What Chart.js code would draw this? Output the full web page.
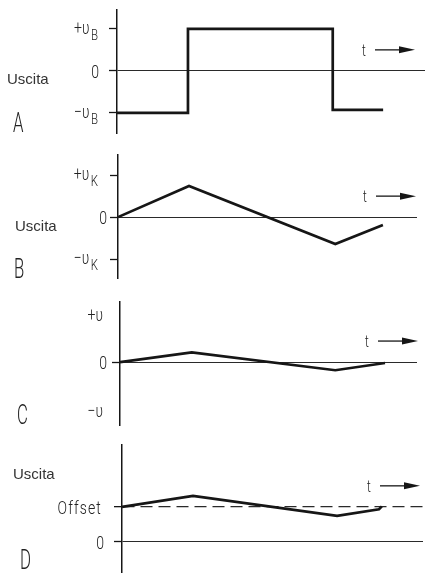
<!DOCTYPE html>
<html>
<head>
<meta charset="utf-8">
<script src="https://cdn.jsdelivr.net/npm/chart.js@4/dist/chart.umd.min.js"></script>
<style>
html, body { margin: 0; padding: 0; background: #fff; }
#wrap { position: relative; width: 427px; height: 573px; overflow: hidden; }
canvas { position: absolute; left: 0; }
.uscita { position: absolute; font-family: "Liberation Sans", Arial, sans-serif; font-size: 15px; line-height: 1; color: #333; }
.letter { position: absolute; font-family: Roboto, "Liberation Sans", Arial, sans-serif; font-weight: 300; font-size: 27px; line-height: 1; color: #222;
          transform: scaleX(0.62); transform-origin: left top; }
</style>
</head>
<body>
<div id="wrap">
  <canvas id="chartA" width="427" height="140" style="top:0px"></canvas>
  <canvas id="chartB" width="427" height="145" style="top:140px"></canvas>
  <canvas id="chartC" width="427" height="145" style="top:285px"></canvas>
  <canvas id="chartD" width="427" height="143" style="top:430px"></canvas>

  <div class="uscita" style="left:7px;top:71px">Uscita</div>
  <div class="letter" style="left:13px;top:110px">A</div>
  <div class="uscita" style="left:15px;top:218px">Uscita</div>
  <div class="letter" style="left:14px;top:256px">B</div>
  <div class="letter" style="left:17px;top:402px">C</div>
  <div class="uscita" style="left:13px;top:466px">Uscita</div>
  <div class="letter" style="left:20px;top:547px">D</div>
</div>
<script>
// A - square wave output
const timeA = [0, 1.0, 1.0, 3.04, 3.04, 3.75];
const outA = [-1, -1, 1, 1, -0.93, -0.93];
const ticksA = [-1, 0, 1];
const labelsA = [['−υ', 'B'], ['0', ''], ['+υ', 'B']];

// B - triangle output
const timeB = [0, 1.0, 3.06, 3.73];
const outB = [0, 0.74, -0.64, -0.19];
const ticksB = [-1, 0, 1];
const labelsB = [['−υ', 'K'], ['0', ''], ['+υ', 'K']];

// C - small triangle
const timeC = [0, 1.01, 3.03, 3.73];
const outC = [0, 0.2, -0.17, -0.02];
const ticksC = [-1, 0, 1];
const labelsC = [['−υ', ''], ['0', ''], ['+υ', '']];

// D - small triangle on offset
const OFFSET = 0.73;
const timeD = [0, 1.0, 3.03, 3.62, 3.66];
const outD = [0.73, 0.96, 0.54, 0.68, 0.74];
const ticksD = [0, OFFSET];
const labelsD = [['0', ''], ['Offset', '']];

const INK = '#161616';
const FONT = 'Roboto, "Liberation Sans", Arial, sans-serif';
const SQUEEZE = 0.74;

// tick labels (with subscripts) and the "t ->" marker
const axisText = {
    id: 'axisText',
    afterDraw(chart, args, opts) {
        const ctx = chart.ctx;
        const area = chart.chartArea;
        const y = chart.scales.y;
        ctx.save();
        ctx.fillStyle = '#222';
        ctx.textBaseline = 'alphabetic';
        ctx.textAlign = 'right';
        opts.values.forEach(function(v, i) {
            const main = opts.labels[i][0];
            const sub = opts.labels[i][1];
            const py = y.getPixelForValue(v);
            let right = area.left - opts.gaps[i];
            if (sub) {
                ctx.font = '300 14px ' + FONT;
                ctx.save();
                ctx.translate(right, py + 11);
                ctx.scale(SQUEEZE + 0.08, 1);
                ctx.fillText(sub, 0, 0);
                ctx.restore();
                right -= ctx.measureText(sub).width * (SQUEEZE + 0.08) + 1.5;
            }
            ctx.font = '300 19px ' + FONT;
            ctx.save();
            ctx.translate(right, py + (sub ? 5 : 7));
            ctx.scale(SQUEEZE, 1);
            if (main === 'Offset') ctx.letterSpacing = '1.5px';
            ctx.fillText(main, 0, 0);
            ctx.restore();
        });

        // t ->
        const by = y.getPixelForValue(opts.base) - 21;
        ctx.font = '300 17px ' + FONT;
        ctx.save();
        ctx.translate(area.left + 247, by + 6);
        ctx.scale(0.7, 1);
        ctx.textAlign = 'center';
        ctx.fillText('t', 0, 0);
        ctx.restore();
        const x1 = area.left + 258, x2 = area.left + 298;
        ctx.strokeStyle = INK;
        ctx.lineWidth = 1.3;
        ctx.beginPath();
        ctx.moveTo(x1, by);
        ctx.lineTo(x2 - 10, by);
        ctx.stroke();
        ctx.fillStyle = INK;
        ctx.beginPath();
        ctx.moveTo(x2, by);
        ctx.lineTo(x2 - 16, by - 3.5);
        ctx.lineTo(x2 - 16, by + 3.5);
        ctx.closePath();
        ctx.fill();
        ctx.restore();
    }
};

function makePanel(p) {
    const points = p.time.map(function(t, i) { return {x: t, y: p.out[i]}; });
    return new Chart(document.getElementById(p.id), {
        type: 'line',
        data: {
            datasets: [{
                data: points,
                borderColor: INK,
                borderWidth: 2.7,
                borderJoinStyle: 'miter',
                pointRadius: 0,
                tension: 0,
                fill: false
            }]
        },
        options: {
            responsive: false,
            animation: false,
            events: [],
            layout: {
                padding: { left: p.axisX - 8, right: 427 - p.right, top: p.padTop, bottom: p.padBottom }
            },
            plugins: {
                legend: { display: false },
                tooltip: { enabled: false },
                axisText: { values: p.ticks, labels: p.labels, gaps: p.gaps, base: p.base }
            },
            scales: {
                x: { type: 'linear', display: false, min: 0, max: p.xMax },
                y: {
                    type: 'linear',
                    min: p.yMin,
                    max: p.yMax,
                    afterBuildTicks: function(scale) {
                        scale.ticks = p.ticks.map(function(v) { return {value: v}; });
                    },
                    ticks: { display: false },
                    grid: {
                        drawOnChartArea: true,
                        drawTicks: true,
                        tickLength: 8,
                        lineWidth: function(c) { return p.dashed.includes(c.tick.value) ? 1.3 : 1; },
                        color: function(c) {
                            return (p.lines.includes(c.tick.value) || p.dashed.includes(c.tick.value)) ? '#2a2a2a' : 'rgba(0,0,0,0)';
                        },
                        tickWidth: 1.3,
                        tickColor: function(c) { return p.marks.includes(c.tick.value) ? INK : 'rgba(0,0,0,0)'; }
                    },
                    border: {
                        display: true,
                        color: INK,
                        width: 1.5,
                        dash: function(c) { return (c.tick && p.dashed.includes(c.tick.value)) ? [12, 6] : []; }
                    }
                }
            }
        },
        plugins: [axisText]
    });
}

makePanel({ id: 'chartA', time: timeA, out: outA, ticks: ticksA, labels: labelsA,
    axisX: 117, right: 425, padTop: 10, padBottom: 7, xMax: 4.34, yMin: -1.48, yMax: 1.45,
    gaps: [19, 18, 19], base: 0, lines: [0], dashed: [], marks: [-1, 0, 1] });

makePanel({ id: 'chartB', time: timeB, out: outB, ticks: ticksB, labels: labelsB,
    axisX: 118, right: 417, padTop: 15, padBottom: 7, xMax: 4.21, yMin: -1.45, yMax: 1.48,
    gaps: [20, 11, 20], base: 0, lines: [0], dashed: [], marks: [-1, 0, 1] });

makePanel({ id: 'chartC', time: timeC, out: outC, ticks: ticksC, labels: labelsC,
    axisX: 120, right: 417, padTop: 17, padBottom: 5, xMax: 4.18, yMin: -1.31, yMax: 1.25,
    gaps: [17, 13, 17], base: 0, lines: [0], dashed: [], marks: [0] });

makePanel({ id: 'chartD', time: timeD, out: outD, ticks: ticksD, labels: labelsD,
    axisX: 122, right: 423, padTop: 15, padBottom: 0, xMax: 4.24, yMin: -0.65, yMax: 2.02,
    gaps: [18, 20], base: OFFSET, lines: [0], dashed: [OFFSET], marks: [0, OFFSET] });
</script>
</body>
</html>
